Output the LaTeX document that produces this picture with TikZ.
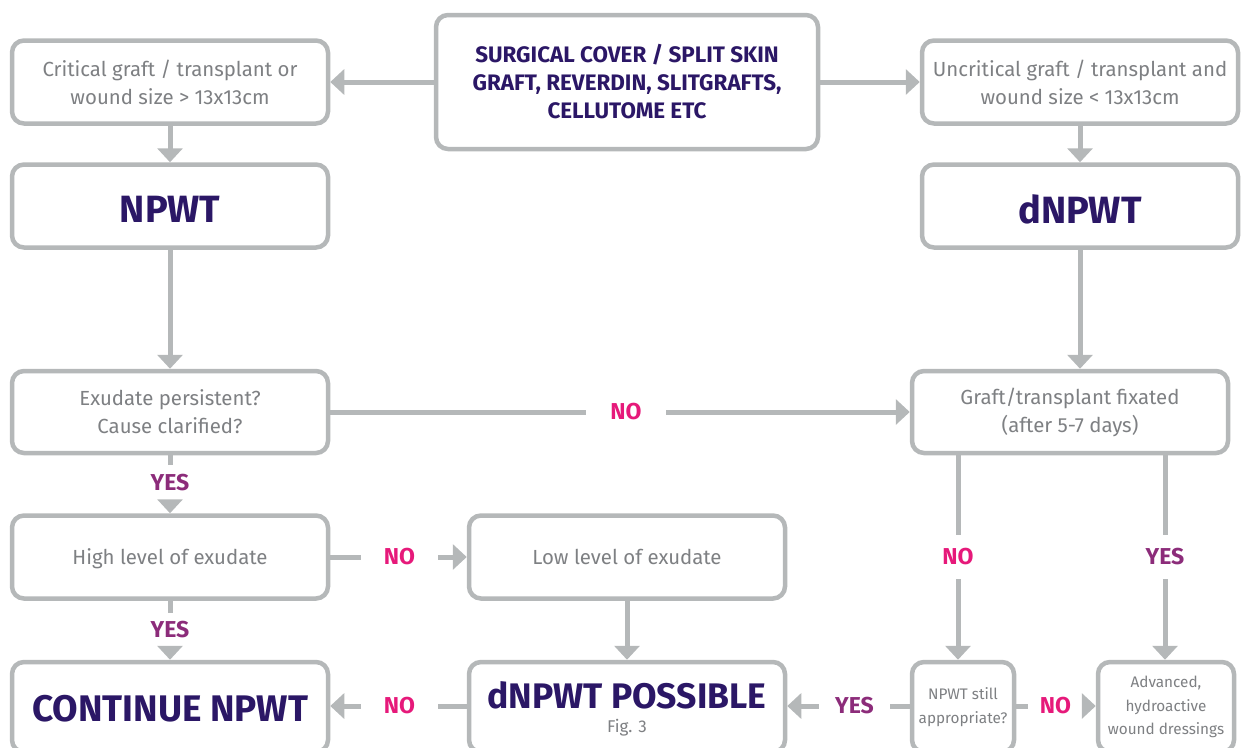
\documentclass[tikz,border=0pt]{standalone}
\usepackage{fontspec}
\setmainfont{Fira Sans}
\usetikzlibrary{arrows.meta}

\definecolor{edgegray}{HTML}{B5B8B9}
\definecolor{txtgray}{HTML}{7E8083}
\definecolor{titlepurple}{HTML}{2B1766}
\definecolor{nopink}{HTML}{E6197A}
\definecolor{yespurple}{HTML}{8C2C7A}

% lower a line of text inside its box, keeping the box size
\newcommand{\lowerby}[2]{\raisebox{-#1}[\height][\depth]{#2}}

\tikzset{
  box/.style={draw=edgegray, line width=4.5pt, rounded corners=12pt, fill=white,
    inner sep=0pt, align=center, text=txtgray,
    font=\fontsize{20.4}{28}\selectfont},
  titlebox/.style={box, text=titlepurple, font=\bfseries\fontsize{38}{40}\selectfont},
  smallbox/.style={box, font=\fontsize{15.3}{23.5}\selectfont},
  conn/.style={draw=edgegray, line width=5pt},
  arr/.style={conn, -{Triangle[length=14pt,width=25pt]}},
  lbl/.style={inner sep=0pt, font=\bfseries\fontsize{23}{23}\selectfont},
  nolbl/.style={lbl, text=nopink},
  yeslbl/.style={lbl, text=yespurple},
}

\begin{document}
\begin{tikzpicture}[x=1pt, y=-1pt]
\useasboundingbox (0,0) rectangle (1241,747);
\clip (0,0) rectangle (1241,747);

% ---- boxes, top row
\node[box, minimum width=316pt, minimum height=83pt] (crit) at (170,82)
  {Critical graft / transplant or\\wound size > 13x13cm};
\node[box, text=titlepurple, font=\bfseries\fontsize{22.4}{28}\selectfont,
      minimum width=382pt, minimum height=134pt] (surg) at (627,82)
  {SURGICAL COVER / SPLIT SKIN\\GRAFT, REVERDIN, SLITGRAFTS,\\CELLUTOME ETC};
\node[box, minimum width=316pt, minimum height=83pt] (uncr) at (1080,82)
  {Uncritical graft / transplant and\\wound size < 13x13cm};

% ---- treatment boxes
\node[titlebox, minimum width=316pt, minimum height=83pt] (npwt) at (170,206) {\lowerby{3pt}{NPWT}};
\node[titlebox, minimum width=316pt, minimum height=83pt] (dnpwt) at (1080,206) {\lowerby{3pt}{dNPWT}};

% ---- decision boxes
\node[box, minimum width=316pt, minimum height=82pt] (exu) at (170,412)
  {Exudate persistent?\\Cause clarified?};
\node[box, minimum width=316pt, minimum height=82pt] (graft) at (1070,412)
  {Graft/transplant fixated\\(after 5-7 days)};
\node[box, minimum width=316pt, minimum height=83pt] (high) at (170,557)
  {\lowerby{2pt}{High level of exudate}};
\node[box, minimum width=316pt, minimum height=83pt] (low) at (627,557)
  {Low level of exudate};

% ---- bottom row
\node[titlebox, font=\bfseries\fontsize{37}{38}\selectfont,
      minimum width=316pt, minimum height=90pt] (cont) at (170,707) {\lowerby{2pt}{CONTINUE NPWT}};
\node[box, font=\fontsize{17}{27}\selectfont,
      minimum width=316pt, minimum height=90pt] (dposs) at (627,707)
  {\lowerby{3pt}{\bfseries\fontsize{35.5}{36}\selectfont\color{titlepurple}dNPWT POSSIBLE}\\Fig. 3};
\node[smallbox, minimum width=102pt, minimum height=90pt] (still) at (963,707)
  {NPWT still\\appropriate?};
\node[smallbox, minimum width=136pt, minimum height=90pt] (adv) at (1166,707)
  {Advanced,\\hydroactive\\wound dressings};

% ---- connector labels
\node[nolbl, minimum width=80pt] (noA) at (626,412) {NO};
\node[yeslbl, minimum height=36pt] (yesA) at (170,483) {YES};
\node[nolbl, minimum width=77pt] (noB) at (399.5,557) {NO};
\node[yeslbl, minimum height=34pt] (yesB) at (170,630) {YES};
\node[nolbl, minimum height=44pt] (noC) at (958,557) {NO};
\node[yeslbl, minimum height=44pt] (yesC) at (1165,557) {YES};
\node[yeslbl, minimum width=71pt] (yesD) at (854.5,706) {YES};
\node[nolbl, minimum width=55pt] (noF) at (1055.5,706) {NO};
\node[nolbl, minimum width=77pt] (noE) at (399.5,706) {NO};

% ---- connectors
\draw[arr] (surg.west |- crit.east) -- (crit.east);
\draw[arr] (surg.east |- uncr.west) -- (uncr.west);
\draw[arr] (crit.south) -- (npwt.north);
\draw[arr] (uncr.south) -- (dnpwt.north);
\draw[arr] (npwt.south) -- (exu.north);
\draw[arr] (dnpwt.south) -- (dnpwt.south |- graft.north);

\draw[conn] (exu.east) -- (noA.west);
\draw[arr] (noA.east) -- (graft.west);

\draw[conn] (exu.south) -- (yesA.north);
\draw[arr] (yesA.south) -- (high.north);

\draw[conn] (high.east) -- (noB.west);
\draw[arr] (noB.east) -- (low.west);

\draw[conn] (high.south) -- (yesB.north);
\draw[arr] (yesB.south) -- (cont.north);

\draw[arr] (low.south) -- (dposs.north);

\draw[conn] (noC |- graft.south) -- (noC.north);
\draw[arr] (noC.south) -- (noC |- still.north);

\draw[conn] (yesC |- graft.south) -- (yesC.north);
\draw[arr] (yesC.south) -- (yesC |- adv.north);

\draw[conn] (still.west |- yesD.east) -- (yesD.east);
\draw[arr] (yesD.west) -- (dposs.east |- yesD.west);

\draw[conn] (still.east |- noF.west) -- (noF.west);
\draw[arr] (noF.east) -- (adv.west |- noF.east);

\draw[conn] (dposs.west |- noE.east) -- (noE.east);
\draw[arr] (noE.west) -- (cont.east |- noE.west);
\end{tikzpicture}
\end{document}
